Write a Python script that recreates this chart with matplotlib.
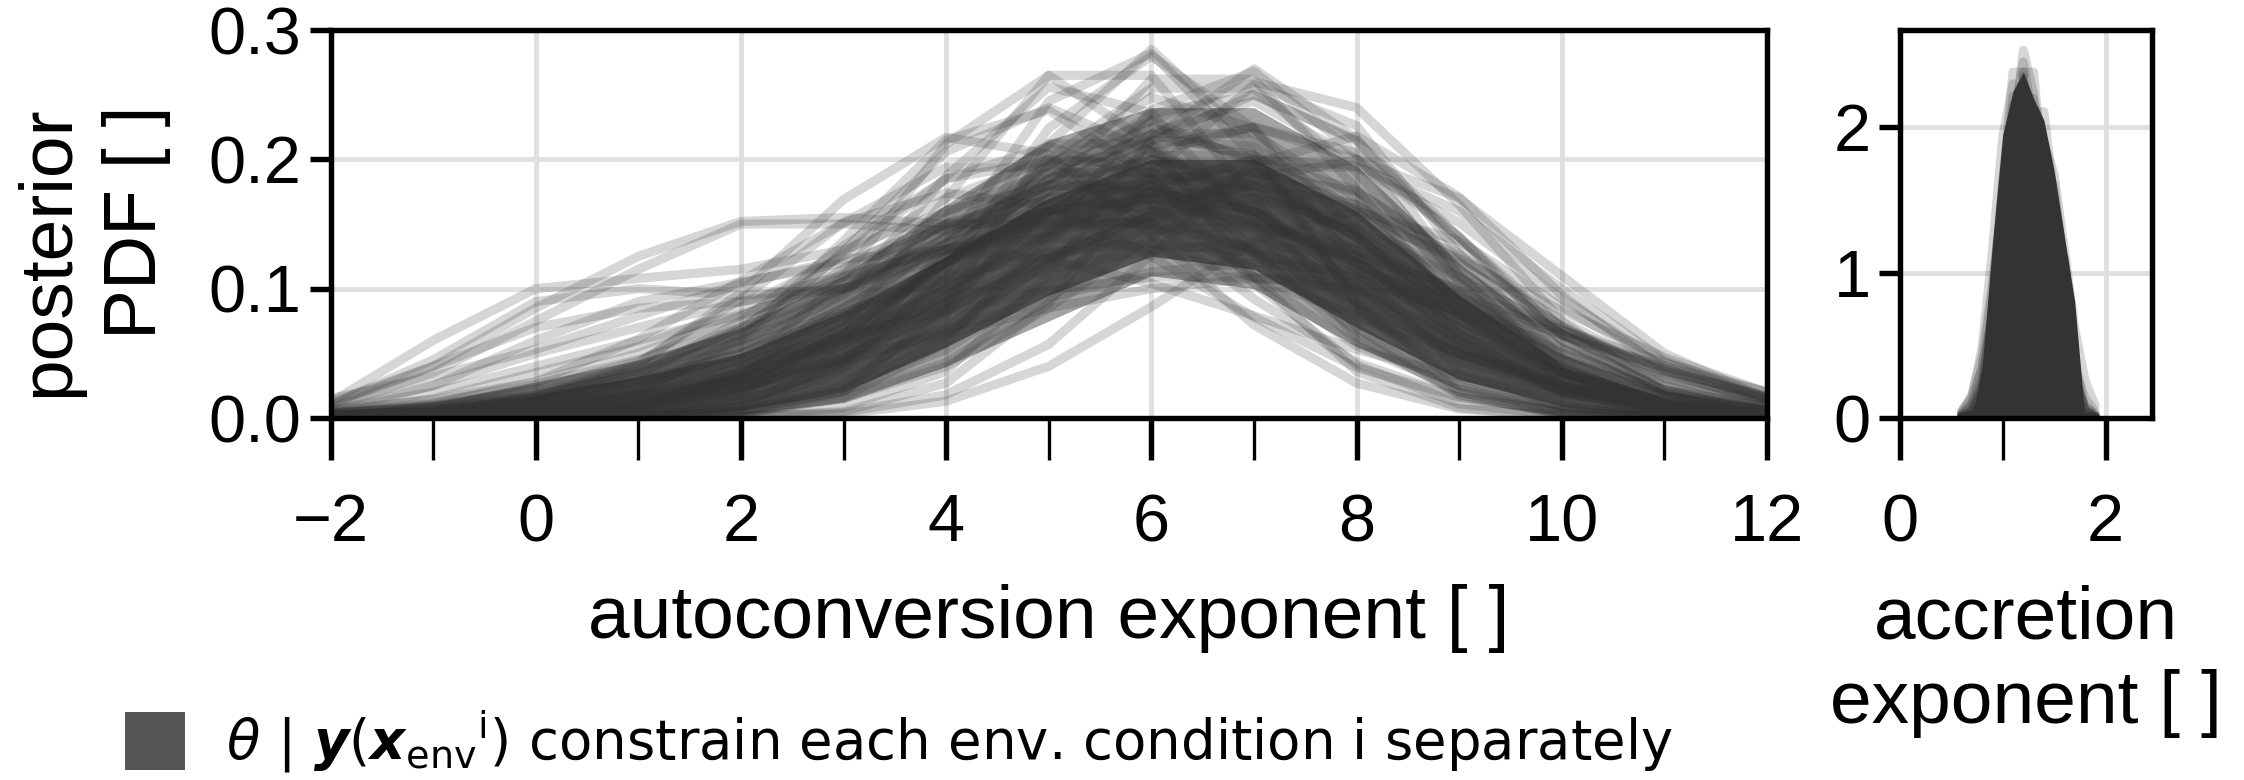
import matplotlib
matplotlib.use("Agg")
import matplotlib.pyplot as plt
from matplotlib.patches import Patch
from matplotlib.ticker import MultipleLocator

plt.rcParams['font.family'] = ['Liberation Sans', 'DejaVu Sans']
plt.rcParams['mathtext.fontset'] = 'dejavusans'

# 1. Data (posterior PDF of each env. condition)
autoconv_x = [-2, -1, 0, 1, 2, 3, 4, 5, 6, 7, 8, 9, 10, 11, 12]
autoconv_pdfs = [
    [0, 0, 0, 0.001, 0.008, 0.038, 0.115, 0.224, 0.28, 0.224, 0.115, 0.038, 0.008, 0.001, 0],
    [0, 0, 0.001, 0.008, 0.036, 0.109, 0.212, 0.265, 0.212, 0.109, 0.036, 0.008, 0.001, 0, 0],
    [0, 0, 0, 0, 0.001, 0.008, 0.036, 0.111, 0.216, 0.27, 0.216, 0.111, 0.036, 0.008, 0.001],
    [0, 0, 0.002, 0.009, 0.027, 0.065, 0.121, 0.176, 0.2, 0.176, 0.121, 0.065, 0.027, 0.009, 0.002],
    [0, 0.002, 0.009, 0.028, 0.068, 0.127, 0.185, 0.21, 0.185, 0.127, 0.068, 0.028, 0.009, 0.002, 0],
    [0, 0, 0, 0.002, 0.009, 0.027, 0.065, 0.121, 0.176, 0.2, 0.176, 0.121, 0.065, 0.027, 0.009],
    [0.001, 0.003, 0.009, 0.022, 0.046, 0.08, 0.12, 0.152, 0.165, 0.152, 0.12, 0.08, 0.046, 0.022, 0.009],
    [0.003, 0.009, 0.022, 0.044, 0.078, 0.116, 0.148, 0.16, 0.148, 0.116, 0.078, 0.044, 0.022, 0.009, 0.003],
    [0, 0.001, 0.003, 0.01, 0.023, 0.047, 0.083, 0.123, 0.157, 0.17, 0.157, 0.123, 0.083, 0.047, 0.02],
    [0.004, 0.009, 0.018, 0.034, 0.055, 0.082, 0.108, 0.128, 0.135, 0.128, 0.108, 0.082, 0.055, 0.03, 0.014],
    [0, 0, 0, 0.003, 0.018, 0.07, 0.17, 0.265, 0.265, 0.17, 0.07, 0.018, 0.003, 0, 0],
    [0, 0, 0, 0.001, 0.005, 0.025, 0.081, 0.177, 0.262, 0.262, 0.177, 0.081, 0.025, 0.005, 0.001],
    [0.001, 0.005, 0.016, 0.043, 0.092, 0.151, 0.194, 0.194, 0.151, 0.092, 0.043, 0.016, 0.005, 0.001, 0],
    [0, 0, 0, 0.001, 0.005, 0.016, 0.043, 0.092, 0.151, 0.194, 0.194, 0.151, 0.092, 0.043, 0.014],
    [0, 0.001, 0.002, 0.008, 0.022, 0.051, 0.094, 0.143, 0.175, 0.175, 0.143, 0.094, 0.051, 0.022, 0.008],
    [0.001, 0.002, 0.008, 0.023, 0.052, 0.097, 0.147, 0.18, 0.18, 0.147, 0.097, 0.052, 0.023, 0.008, 0.002],
    [0, 0, 0.001, 0.005, 0.02, 0.057, 0.124, 0.197, 0.23, 0.197, 0.124, 0.057, 0.02, 0.005, 0.001],
    [0, 0.001, 0.005, 0.02, 0.06, 0.129, 0.206, 0.24, 0.206, 0.129, 0.06, 0.02, 0.005, 0.001, 0],
    [0, 0, 0, 0.001, 0.005, 0.021, 0.062, 0.135, 0.214, 0.25, 0.214, 0.135, 0.062, 0.021, 0.005],
    [0.012, 0.06, 0.1, 0.108, 0.115, 0.13, 0.16, 0.18, 0.175, 0.14, 0.09, 0.05, 0.025, 0.01, 0.004],
    [0.008, 0.035, 0.075, 0.115, 0.15, 0.15, 0.145, 0.16, 0.17, 0.15, 0.1, 0.055, 0.025, 0.01, 0.003],
    [0.01, 0.045, 0.09, 0.1, 0.095, 0.1, 0.135, 0.19, 0.225, 0.2, 0.13, 0.06, 0.02, 0.005, 0.001],
    [0.005, 0.025, 0.06, 0.09, 0.105, 0.12, 0.15, 0.175, 0.18, 0.16, 0.115, 0.07, 0.035, 0.013, 0.004],
    [0.015, 0.032, 0.053, 0.079, 0.104, 0.123, 0.13, 0.123, 0.104, 0.079, 0.053, 0.032, 0.018, 0.009, 0.004],
    [0, 0, 0.001, 0.004, 0.014, 0.034, 0.071, 0.119, 0.162, 0.18, 0.162, 0.119, 0.071, 0.034, 0.014],
    [0, 0, 0, 0, 0.001, 0.003, 0.013, 0.04, 0.086, 0.137, 0.16, 0.137, 0.086, 0.04, 0.013],
    [0.004, 0.008, 0.016, 0.027, 0.043, 0.063, 0.083, 0.099, 0.109, 0.109, 0.099, 0.083, 0.063, 0.04, 0.02],
    [0.001, 0.002, 0.005, 0.012, 0.024, 0.043, 0.068, 0.093, 0.113, 0.12, 0.113, 0.093, 0.068, 0.043, 0.02],
    [0, 0, 0.002, 0.01, 0.033, 0.084, 0.156, 0.212, 0.212, 0.156, 0.084, 0.033, 0.01, 0.002, 0],
    [0, 0, 0.001, 0.005, 0.017, 0.045, 0.096, 0.159, 0.203, 0.203, 0.159, 0.096, 0.045, 0.017, 0.005],
    [0, 0.002, 0.006, 0.016, 0.039, 0.075, 0.12, 0.159, 0.175, 0.159, 0.12, 0.075, 0.039, 0.016, 0.006],
    [0, 0.001, 0.005, 0.02, 0.062, 0.137, 0.215, 0.238, 0.187, 0.104, 0.041, 0.011, 0.002, 0, 0],
    [0, 0, 0, 0, 0.003, 0.016, 0.058, 0.143, 0.238, 0.268, 0.204, 0.105, 0.036, 0.009, 0.001],
    [0, 0, 0, 0.001, 0.009, 0.044, 0.132, 0.245, 0.282, 0.202, 0.09, 0.025, 0.004, 0.001, 0],
    [0.002, 0.006, 0.016, 0.037, 0.07, 0.112, 0.15, 0.169, 0.161, 0.128, 0.086, 0.049, 0.023, 0.009, 0.003],
    [0, 0, 0, 0.002, 0.006, 0.021, 0.053, 0.104, 0.159, 0.189, 0.175, 0.127, 0.071, 0.031, 0.011],
    [0.003, 0.011, 0.028, 0.061, 0.106, 0.151, 0.174, 0.164, 0.125, 0.078, 0.039, 0.016, 0.005, 0.001, 0],
    [0, 0, 0, 0.002, 0.012, 0.042, 0.108, 0.195, 0.248, 0.224, 0.143, 0.064, 0.02, 0.005, 0.001],
    [0.006, 0.014, 0.028, 0.05, 0.079, 0.109, 0.131, 0.14, 0.131, 0.109, 0.079, 0.05, 0.028, 0.014, 0.006],
    [0, 0, 0, 0, 0.001, 0.004, 0.018, 0.057, 0.126, 0.197, 0.218, 0.171, 0.095, 0.037, 0.01],
    [0.001, 0.003, 0.013, 0.041, 0.097, 0.169, 0.217, 0.204, 0.141, 0.072, 0.027, 0.007, 0.002, 0, 0],
    [0.001, 0.002, 0.006, 0.015, 0.031, 0.057, 0.091, 0.124, 0.146, 0.148, 0.13, 0.098, 0.064, 0.036, 0.017],
    [0.002, 0.007, 0.017, 0.035, 0.063, 0.098, 0.131, 0.152, 0.152, 0.131, 0.098, 0.063, 0.035, 0.017, 0.007],
    [0, 0, 0.002, 0.007, 0.024, 0.061, 0.12, 0.184, 0.219, 0.203, 0.147, 0.083, 0.036, 0.012, 0.003],
    [0, 0, 0.002, 0.01, 0.032, 0.076, 0.141, 0.196, 0.207, 0.166, 0.101, 0.046, 0.016, 0.004, 0.001],
    [0, 0.001, 0.003, 0.009, 0.022, 0.047, 0.083, 0.125, 0.156, 0.164, 0.146, 0.108, 0.068, 0.036, 0.016],
    [0.001, 0.003, 0.011, 0.033, 0.075, 0.133, 0.185, 0.199, 0.167, 0.109, 0.056, 0.022, 0.007, 0.002, 0],
    [0, 0, 0, 0, 0.003, 0.02, 0.087, 0.212, 0.285, 0.212, 0.087, 0.02, 0.003, 0, 0],
    [0, 0, 0, 0, 0.001, 0.005, 0.027, 0.089, 0.189, 0.258, 0.226, 0.127, 0.046, 0.01, 0.002],
    [0, 0, 0.001, 0.007, 0.031, 0.093, 0.187, 0.256, 0.236, 0.148, 0.063, 0.018, 0.003, 0.001, 0],
    [0.006, 0.02, 0.04, 0.06, 0.08, 0.105, 0.135, 0.16, 0.17, 0.155, 0.12, 0.075, 0.035, 0.012, 0.004],
    [0.004, 0.015, 0.035, 0.055, 0.085, 0.125, 0.17, 0.2, 0.195, 0.16, 0.105, 0.055, 0.022, 0.007, 0.002],
    [0.008, 0.025, 0.05, 0.07, 0.09, 0.11, 0.13, 0.145, 0.155, 0.15, 0.125, 0.085, 0.045, 0.018, 0.006],
    [0.012, 0.04, 0.07, 0.085, 0.09, 0.1, 0.125, 0.16, 0.185, 0.18, 0.14, 0.08, 0.035, 0.012, 0.003],
    [0.01, 0.04, 0.085, 0.125, 0.152, 0.155, 0.15, 0.15, 0.15, 0.13, 0.09, 0.05, 0.02, 0.007, 0.002],
    [0.001, 0.003, 0.008, 0.018, 0.035, 0.06, 0.09, 0.115, 0.13, 0.135, 0.125, 0.1, 0.068, 0.038, 0.015],
    [0, 0, 0, 0.001, 0.004, 0.015, 0.04, 0.085, 0.14, 0.185, 0.2, 0.17, 0.11, 0.05, 0.015],
    [0.003, 0.01, 0.022, 0.04, 0.065, 0.1, 0.14, 0.175, 0.19, 0.18, 0.14, 0.09, 0.045, 0.017, 0.005],
    [0.002, 0.005, 0.01, 0.018, 0.03, 0.045, 0.065, 0.085, 0.1, 0.108, 0.105, 0.09, 0.065, 0.038, 0.016],
    [0, 0.002, 0.006, 0.015, 0.035, 0.07, 0.12, 0.17, 0.21, 0.225, 0.2, 0.14, 0.07, 0.025, 0.006],
    [0, 0, 0.001, 0.004, 0.014, 0.04, 0.09, 0.16, 0.22, 0.245, 0.2, 0.11, 0.04, 0.01, 0.002],
    [0.001, 0.004, 0.012, 0.03, 0.06, 0.1, 0.145, 0.18, 0.2, 0.19, 0.14, 0.07, 0.025, 0.006, 0.001],
    [0, 0.002, 0.007, 0.02, 0.045, 0.085, 0.135, 0.185, 0.22, 0.22, 0.17, 0.09, 0.03, 0.007, 0.001],
    [0.002, 0.006, 0.015, 0.03, 0.05, 0.08, 0.12, 0.165, 0.205, 0.225, 0.205, 0.14, 0.065, 0.02, 0.005],
    [0.001, 0.004, 0.012, 0.028, 0.055, 0.095, 0.14, 0.17, 0.175, 0.16, 0.13, 0.09, 0.05, 0.02, 0.006],
    [0, 0.001, 0.004, 0.012, 0.03, 0.065, 0.12, 0.185, 0.235, 0.25, 0.215, 0.14, 0.06, 0.017, 0.003],
    [0.003, 0.009, 0.02, 0.037, 0.06, 0.09, 0.125, 0.16, 0.185, 0.19, 0.165, 0.115, 0.06, 0.022, 0.006],
    [0, 0.001, 0.003, 0.01, 0.028, 0.065, 0.125, 0.2, 0.255, 0.255, 0.19, 0.1, 0.035, 0.008, 0.001],
    [0.002, 0.007, 0.018, 0.038, 0.068, 0.108, 0.15, 0.185, 0.2, 0.185, 0.14, 0.08, 0.032, 0.009, 0.002],
    [0.001, 0.003, 0.008, 0.018, 0.036, 0.063, 0.1, 0.14, 0.17, 0.18, 0.165, 0.125, 0.075, 0.035, 0.012],
    [0, 0.001, 0.003, 0.01, 0.025, 0.055, 0.105, 0.17, 0.23, 0.26, 0.24, 0.165, 0.075, 0.02, 0.004],
    [0.002, 0.006, 0.014, 0.028, 0.05, 0.085, 0.13, 0.18, 0.215, 0.21, 0.16, 0.09, 0.035, 0.01, 0.002],
    [0.001, 0.005, 0.015, 0.035, 0.07, 0.115, 0.16, 0.19, 0.19, 0.16, 0.11, 0.06, 0.025, 0.008, 0.002],
    [0, 0.001, 0.004, 0.012, 0.03, 0.06, 0.1, 0.145, 0.18, 0.2, 0.195, 0.16, 0.1, 0.045, 0.015],
    [0.004, 0.012, 0.026, 0.045, 0.07, 0.1, 0.13, 0.155, 0.17, 0.17, 0.15, 0.11, 0.065, 0.028, 0.009],
]
# where the overlapping curves pile up: outer (textured) and inner (solid) extent
autoconv_outer_lo = [0, 0, 0, 0, 0.003, 0.012, 0.04, 0.075, 0.11, 0.1, 0.055, 0.022, 0.006, 0.001, 0]
autoconv_outer_hi = [0.005, 0.012, 0.028, 0.045, 0.07, 0.11, 0.165, 0.215, 0.24, 0.24, 0.195, 0.12, 0.058, 0.022, 0.005]
autoconv_inner_lo = [0, 0, 0, 0, 0.006, 0.02, 0.055, 0.095, 0.125, 0.115, 0.07, 0.03, 0.009, 0.001, 0]
autoconv_inner_hi = [0.003, 0.008, 0.018, 0.032, 0.05, 0.082, 0.125, 0.17, 0.2, 0.2, 0.16, 0.095, 0.042, 0.015, 0.003]

accretion_x = [0.6, 0.7, 0.8, 0.9, 1.0, 1.1, 1.2, 1.3, 1.4, 1.5, 1.6, 1.7, 1.8, 1.9]
accretion_pdfs = [
    [0.022, 0.088, 0.27, 0.65, 1.214, 1.765, 2.0, 1.765, 1.214, 0.65, 0.27, 0.088, 0.022, 0.004],
    [0.002, 0.019, 0.108, 0.421, 1.122, 2.016, 2.45, 2.016, 1.122, 0.421, 0.108, 0.019, 0.002, 0.0],
    [0.009, 0.046, 0.187, 0.548, 1.186, 1.885, 2.2, 1.885, 1.186, 0.548, 0.187, 0.046, 0.009, 0.001],
    [0.043, 0.137, 0.344, 0.709, 1.192, 1.624, 1.8, 1.624, 1.192, 0.709, 0.344, 0.137, 0.043, 0.011],
    [0.004, 0.022, 0.088, 0.27, 0.65, 1.214, 1.765, 2.0, 1.765, 1.214, 0.65, 0.27, 0.088, 0.022],
    [0.046, 0.16, 0.432, 0.916, 1.51, 1.938, 1.938, 1.51, 0.916, 0.432, 0.16, 0.046, 0.01, 0.002],
    [0.01, 0.047, 0.164, 0.443, 0.939, 1.548, 1.986, 1.986, 1.548, 0.939, 0.443, 0.164, 0.047, 0.01],
    [0.0, 0.007, 0.048, 0.228, 0.738, 1.61, 2.38, 2.38, 1.61, 0.738, 0.228, 0.048, 0.007, 0.0],
    [0.021, 0.101, 0.347, 0.876, 1.626, 2.213, 2.213, 1.626, 0.876, 0.347, 0.101, 0.021, 0.003, 0.0],
    [0.011, 0.043, 0.137, 0.344, 0.709, 1.192, 1.624, 1.8, 1.624, 1.192, 0.709, 0.344, 0.137, 0.043],
    [0.024, 0.081, 0.228, 0.522, 0.969, 1.467, 1.802, 1.802, 1.467, 0.969, 0.522, 0.228, 0.081, 0.024],
    [0.007, 0.048, 0.228, 0.738, 1.61, 2.38, 2.38, 1.61, 0.738, 0.228, 0.048, 0.007, 0.0, 0.0],
    [0.001, 0.009, 0.046, 0.187, 0.548, 1.186, 1.885, 2.2, 1.885, 1.186, 0.548, 0.187, 0.046, 0.009],
    [0.005, 0.031, 0.148, 0.495, 1.176, 1.977, 2.35, 1.977, 1.176, 0.495, 0.148, 0.031, 0.005, 0.0],
    [0.0, 0.02, 0.12, 0.5, 1.15, 1.8, 2.05, 1.75, 1.7, 1.6, 1.0, 0.3, 0.05, 0.0],
    [0.0, 0.01, 0.09, 0.42, 1.05, 1.7, 1.9, 1.6, 1.35, 1.2, 1.1, 0.4, 0.06, 0.01],
    [0.0, 0.01, 0.064, 0.3, 0.93, 1.89, 2.53, 2.23, 1.3, 0.5, 0.125, 0.02, 0.003, 0.0],
    [0.03, 0.145, 0.485, 1.15, 1.934, 2.3, 1.934, 1.15, 0.485, 0.145, 0.03, 0.005, 0.0, 0.0],
    [0.0, 0.002, 0.011, 0.066, 0.264, 0.745, 1.49, 2.108, 2.108, 1.49, 0.745, 0.264, 0.066, 0.011],
    [0.0, 0.004, 0.021, 0.084, 0.257, 0.618, 1.153, 1.676, 1.9, 1.676, 1.153, 0.618, 0.257, 0.084],
    [0.0, 0.005, 0.05, 0.3, 0.85, 1.5, 1.95, 1.9, 1.6, 1.2, 0.75, 0.3, 0.05, 0.0],
    [0.0, 0.01, 0.12, 0.55, 1.3, 2.0, 2.2, 1.85, 1.35, 0.85, 0.4, 0.12, 0.02, 0.0],
    [0.0, 0.02, 0.2, 0.75, 1.55, 2.15, 2.25, 1.8, 1.15, 0.55, 0.18, 0.03, 0.0, 0.0],
]
accretion_core_hi = [0, 0, 0.35, 1.2, 1.95, 2.25, 2.38, 2.2, 2.05, 1.7, 1.25, 0.8, 0.0, 0]

LINE_COLOR = '#333333'
GRID_COLOR = '#e0e0e0'
TICK_SIZE = 16
LABEL_SIZE = 18

# 2. Figure and axes
fig = plt.figure(figsize=(7.48, 2.6), dpi=300)
ax_a = fig.add_axes([0.1473, 0.4641, 0.6401, 0.4974])
ax_b = fig.add_axes([0.8467, 0.4641, 0.1122, 0.4974])

ax_a.fill_between(autoconv_x, autoconv_outer_lo, autoconv_outer_hi, color=LINE_COLOR,
                  alpha=0.45, lw=0, zorder=1.5)
ax_a.fill_between(autoconv_x, autoconv_inner_lo, autoconv_inner_hi, color=LINE_COLOR,
                  alpha=0.7, lw=0, zorder=1.6)
for x_pdf in autoconv_pdfs:
    ax_a.plot(autoconv_x, x_pdf, color=LINE_COLOR, alpha=0.2, lw=2.2,
              solid_joinstyle='round', solid_capstyle='round')

ax_b.fill_between(accretion_x, 0, accretion_core_hi, color=LINE_COLOR, lw=0, zorder=1.5)
for x_pdf in accretion_pdfs:
    ax_b.plot(accretion_x, x_pdf, color=LINE_COLOR, alpha=0.2, lw=2.2,
              solid_joinstyle='round', solid_capstyle='round')

# 3. Styling
ax_a.set_xlim(-2, 12)
ax_a.set_ylim(0, 0.3)
ax_a.xaxis.set_major_locator(MultipleLocator(2))
ax_a.xaxis.set_minor_locator(MultipleLocator(1))
ax_a.set_yticks([0.0, 0.1, 0.2, 0.3])
ax_a.set_yticklabels(['0.0', '0.1', '0.2', '0.3'])

ax_b.set_xlim(0, 2.45)
ax_b.set_ylim(0, 2.67)
ax_b.xaxis.set_major_locator(MultipleLocator(2))
ax_b.xaxis.set_minor_locator(MultipleLocator(1))
ax_b.set_yticks([0, 1, 2])

for ax in (ax_a, ax_b):
    ax.grid(True, which='major', color=GRID_COLOR, lw=1.2)
    ax.set_axisbelow(True)
    for sp in ax.spines.values():
        sp.set_linewidth(1.3)
        sp.set_zorder(3)
    ax.tick_params(axis='x', which='major', length=10, width=1.3, pad=8, labelsize=TICK_SIZE)
    ax.tick_params(axis='x', which='minor', length=10, width=0.8)
    ax.tick_params(axis='y', which='major', length=5, width=1.3, pad=2, labelsize=TICK_SIZE)

ax_a.set_ylabel('posterior\nPDF [ ]', fontsize=LABEL_SIZE, linespacing=1.35,
                multialignment='right', labelpad=9)
ax_a.yaxis.label.set_y(0.43)
ax_a.set_xlabel('autoconversion exponent [ ]', fontsize=LABEL_SIZE, labelpad=7)
ax_b.set_xlabel('accretion\nexponent [ ]', fontsize=LABEL_SIZE, labelpad=7, linespacing=1.3)

# 4. Legend
handle = Patch(facecolor='#555555', edgecolor='none')
label = (r'$\theta\ |\ \boldsymbol{y}\mathit{(}\boldsymbol{x}_{\mathrm{env}}{}^{\mathrm{i}}\mathit{)}$'
         ' constrain each env. condition i separately')
fig.legend(handles=[handle], labels=[label],
           loc='center left', bbox_to_anchor=(0.034, 0.05), frameon=False,
           handlelength=1.1, handleheight=1.25, handletextpad=0.75,
           prop={'family': 'DejaVu Sans', 'size': 13.1})

fig.savefig('out.png', dpi=300)
